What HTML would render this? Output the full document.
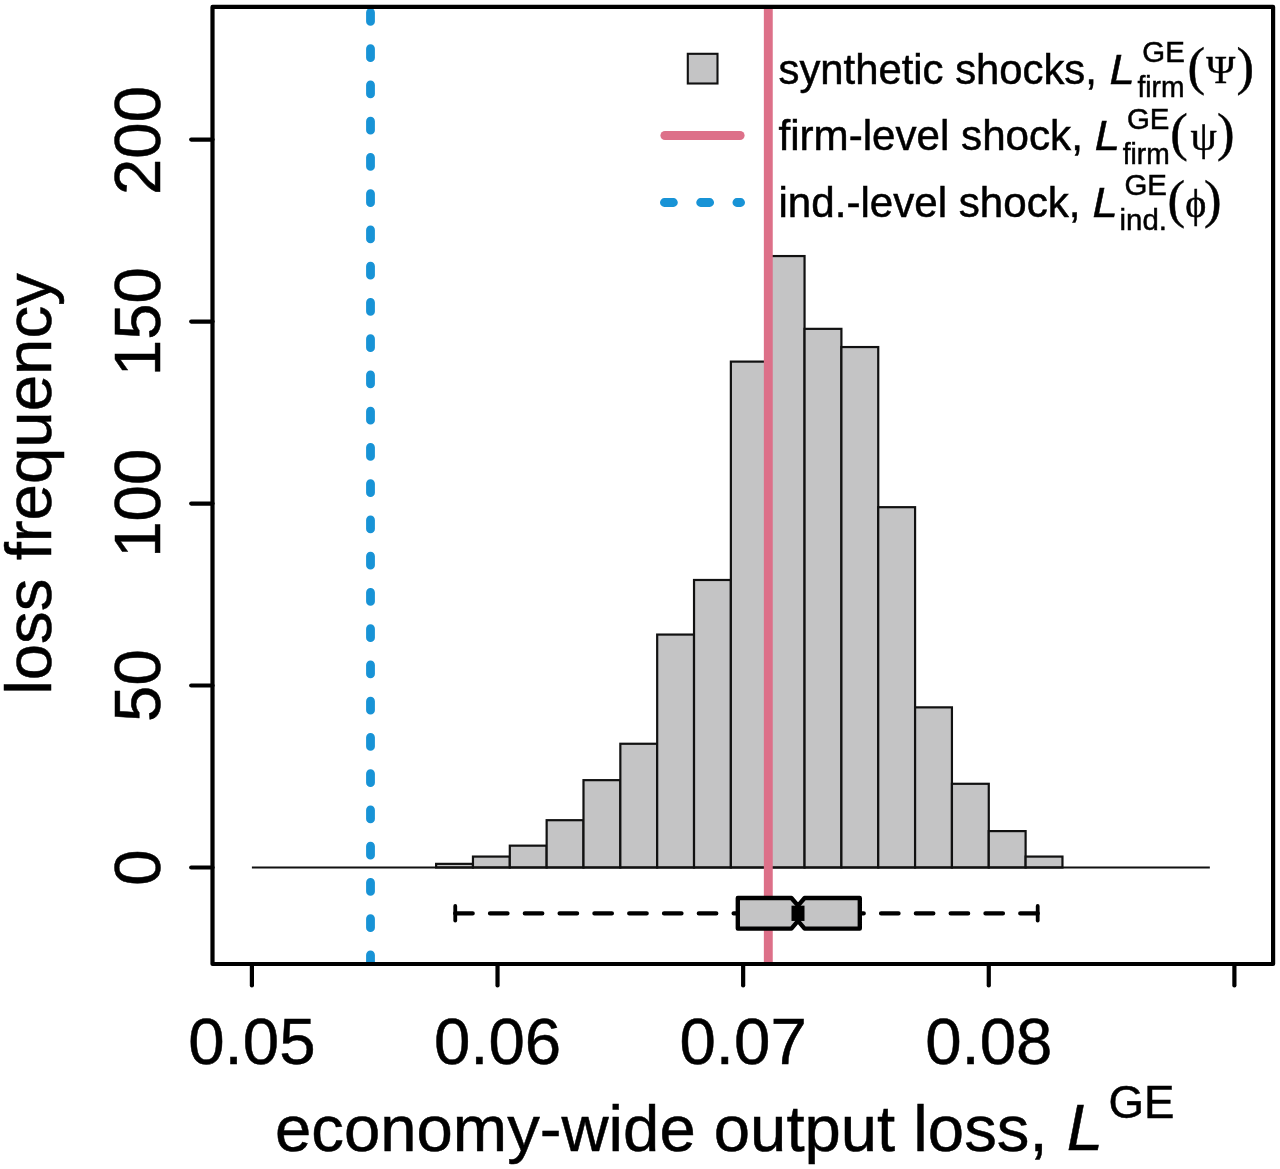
<!DOCTYPE html>
<html><head><meta charset="utf-8"><title>loss frequency histogram</title>
<style>
html,body{margin:0;padding:0;background:#fff;}
svg{display:block;}
text{font-family:"Liberation Sans",Arial,Helvetica,sans-serif;fill:#000;stroke:#000;stroke-width:0.5px;}
.sym{font-family:"Liberation Serif","DejaVu Serif",serif;}
</style></head>
<body>
<svg width="1280" height="1169" viewBox="0 0 1280 1169">
<rect x="0" y="0" width="1280" height="1169" fill="#fff"/>
<!-- histogram -->
<g fill="#c4c4c5" stroke="#111" stroke-width="2.2" stroke-linejoin="miter">
<rect x="436.12" y="863.86" width="36.84" height="3.64"/>
<rect x="472.96" y="856.58" width="36.84" height="10.92"/>
<rect x="509.81" y="845.66" width="36.84" height="21.84"/>
<rect x="546.65" y="820.19" width="36.84" height="47.31"/>
<rect x="583.49" y="780.15" width="36.84" height="87.35"/>
<rect x="620.34" y="743.76" width="36.84" height="123.74"/>
<rect x="657.18" y="634.57" width="36.84" height="232.93"/>
<rect x="694.03" y="579.98" width="36.84" height="287.52"/>
<rect x="730.87" y="361.61" width="36.84" height="505.89"/>
<rect x="767.71" y="256.06" width="36.84" height="611.44"/>
<rect x="804.56" y="328.85" width="36.84" height="538.65"/>
<rect x="841.40" y="347.05" width="36.84" height="520.45"/>
<rect x="878.24" y="507.19" width="36.84" height="360.31"/>
<rect x="915.09" y="707.36" width="36.84" height="160.14"/>
<rect x="951.93" y="783.79" width="36.84" height="83.71"/>
<rect x="988.77" y="831.11" width="36.84" height="36.39"/>
<rect x="1025.62" y="856.58" width="36.84" height="10.92"/>
</g>
<line x1="251.90" y1="867.5" x2="1209.84" y2="867.5" stroke="#111" stroke-width="1.8"/>
<!-- vertical lines -->
<clipPath id="plotclip"><rect x="212.5" y="6.9" width="1060.6" height="957.1"/></clipPath>
<line x1="768.3" y1="6.9" x2="768.3" y2="964.0" stroke="#dd7089" stroke-width="8.9"/>
<line clip-path="url(#plotclip)" x1="370.5" y1="12.45" x2="370.5" y2="964.0" stroke="#1893d6" stroke-width="8.8" stroke-linecap="round" stroke-dasharray="9 27.25"/>
<!-- boxplot -->
<g stroke="#000" stroke-width="4.35" stroke-linecap="round" fill="none">
<line x1="455.25" y1="913.3" x2="737.8" y2="913.3" stroke-dasharray="17.4 17.4"/>
<line x1="1037.7" y1="913.3" x2="859.8" y2="913.3" stroke-dasharray="17.4 17.4"/>
<line x1="455.25" y1="906.0" x2="455.25" y2="920.5999999999999" stroke-width="3.8"/>
<line x1="1037.7" y1="906.0" x2="1037.7" y2="920.5999999999999" stroke-width="3.8"/>
<path d="M737.8 898.0 L791.4 898.0 L798.0 905.65 L804.6 898.0 L859.8 898.0 L859.8 928.6 L804.6 928.6 L798.0 920.95 L791.4 928.6 L737.8 928.6 Z" fill="#c4c4c5" stroke-linejoin="round"/>
<line x1="798.0" y1="905.65" x2="798.0" y2="920.95" stroke-width="13" stroke-linecap="butt"/>
</g>
<!-- legend -->
<rect x="687.8" y="53.8" width="29.7" height="29.7" fill="#c4c4c5" stroke="#111" stroke-width="2.1"/>
<line x1="665" y1="135.5" x2="740" y2="135.5" stroke="#dd7089" stroke-width="9.2" stroke-linecap="round"/>
<line x1="664.4" y1="202.5" x2="740.6" y2="202.5" stroke="#1893d6" stroke-width="8.8" stroke-linecap="round" stroke-dasharray="9 27.25"/>
<g font-size="41.7px">
<text x="778.5" y="83.5" textLength="318.4" lengthAdjust="spacingAndGlyphs">synthetic shocks,</text>
<text x="1109.5" y="83.5" font-style="italic" textLength="25.2" lengthAdjust="spacingAndGlyphs">L</text>
<text x="1142.3" y="62" font-size="29.4px">GE</text>
<text x="1137.5" y="96.9" font-size="29.4px" textLength="47" lengthAdjust="spacingAndGlyphs">firm</text>
<text x="1187.5" y="83.6" class="sym" font-size="52.7px">(</text>
<text x="1206.3" y="83" class="sym" font-size="41px" textLength="29" lengthAdjust="spacingAndGlyphs">Ψ</text>
<text x="1236.5" y="83.6" class="sym" font-size="52.7px">)</text>
<text x="778.5" y="150" textLength="304.4" lengthAdjust="spacingAndGlyphs">firm-level shock,</text>
<text x="1094.7" y="150" font-style="italic" textLength="25.2" lengthAdjust="spacingAndGlyphs">L</text>
<text x="1126.9" y="128.5" font-size="29.4px">GE</text>
<text x="1122.7" y="163.8" font-size="29.4px" textLength="47" lengthAdjust="spacingAndGlyphs">firm</text>
<text x="1170.2" y="149.9" class="sym" font-size="52.7px">(</text>
<text x="1190.5" y="150" class="sym" font-size="42px">ψ</text>
<text x="1217" y="149.9" class="sym" font-size="52.7px">)</text>
<text x="778.5" y="217" textLength="302" lengthAdjust="spacingAndGlyphs">ind.-level shock,</text>
<text x="1092.5" y="217" font-style="italic" textLength="25.2" lengthAdjust="spacingAndGlyphs">L</text>
<text x="1124.4" y="195" font-size="29.4px">GE</text>
<text x="1119.6" y="230.3" font-size="29.4px">ind.</text>
<text x="1167.5" y="216.8" class="sym" font-size="52.7px">(</text>
<text x="1185.3" y="216.5" class="sym" font-size="40px">ϕ</text>
<text x="1204" y="216.5" class="sym" font-size="52.7px">)</text>
</g>
<!-- axes -->
<g stroke="#000" stroke-width="4.2" stroke-linecap="round" fill="none">
<rect x="212.5" y="6.9" width="1060.6" height="957.1" stroke-linejoin="round"/>
<line x1="251.90" y1="964.0" x2="251.90" y2="985.5"/><line x1="497.53" y1="964.0" x2="497.53" y2="985.5"/><line x1="743.15" y1="964.0" x2="743.15" y2="985.5"/><line x1="988.77" y1="964.0" x2="988.77" y2="985.5"/><line x1="1234.40" y1="964.0" x2="1234.40" y2="985.5"/>
<line x1="212.5" y1="867.50" x2="191.2" y2="867.50"/><line x1="212.5" y1="685.52" x2="191.2" y2="685.52"/><line x1="212.5" y1="503.55" x2="191.2" y2="503.55"/><line x1="212.5" y1="321.58" x2="191.2" y2="321.58"/><line x1="212.5" y1="139.60" x2="191.2" y2="139.60"/>
</g>
<g font-size="65.4px">
<text x="251.90" y="1064.2" text-anchor="middle">0.05</text><text x="497.53" y="1064.2" text-anchor="middle">0.06</text><text x="743.15" y="1064.2" text-anchor="middle">0.07</text><text x="988.77" y="1064.2" text-anchor="middle">0.08</text>
<text transform="translate(160.2 867.50) rotate(-90)" text-anchor="middle">0</text><text transform="translate(160.2 685.52) rotate(-90)" text-anchor="middle">50</text><text transform="translate(160.2 503.25) rotate(-90)" text-anchor="middle">100</text><text transform="translate(160.2 321.58) rotate(-90)" text-anchor="middle">150</text><text transform="translate(160.2 140.50) rotate(-90)" text-anchor="middle">200</text>
<text transform="translate(51.1 484) rotate(-90)" text-anchor="middle">loss frequency</text>
<text x="275" y="1150.6" font-size="65.25px">economy-wide output loss,</text>
<text x="1066.8" y="1150.2" font-style="italic">L</text>
<text x="1108.5" y="1117.8" font-size="45.6px">GE</text>
</g>
</svg>
</body></html>
